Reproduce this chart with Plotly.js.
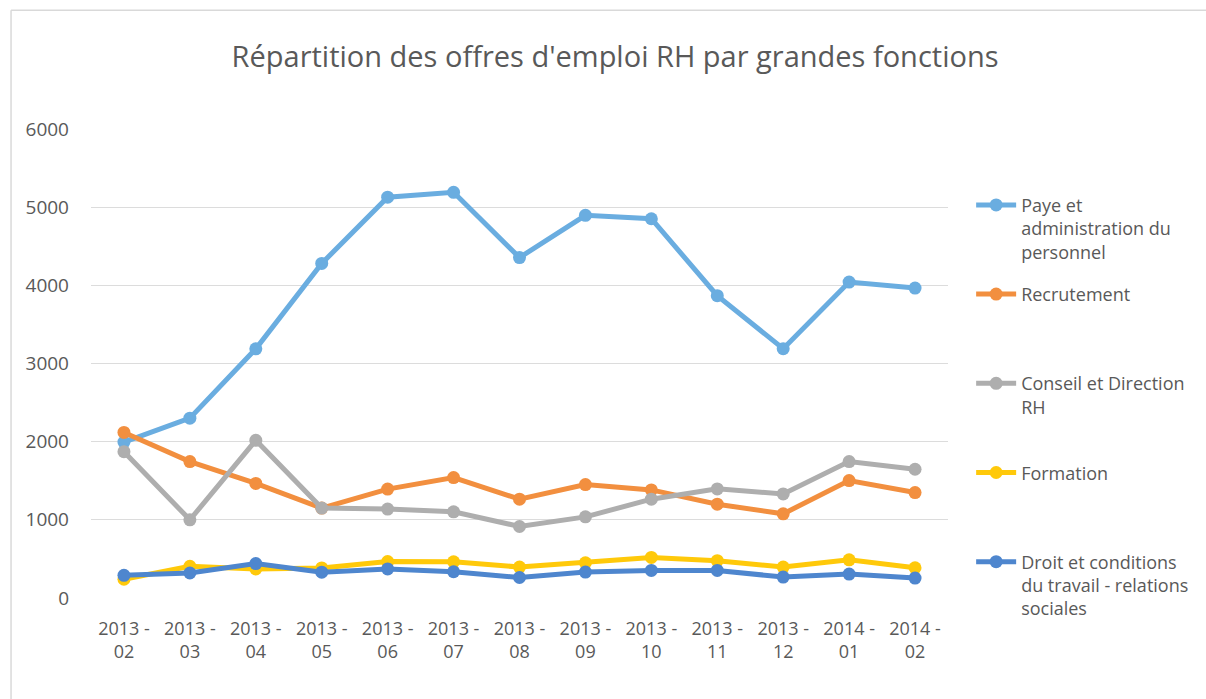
<!DOCTYPE html>
<html>
<head>
<meta charset="utf-8">
<script src="https://cdn.plot.ly/plotly-3.0.1.min.js"></script>
<style>html,body{margin:0;padding:0;background:#fff;}#chart{width:1206px;height:699px;}</style>
</head>
<body>
<div id="chart"></div>
<script>
const months = ["2013 -<br>02","2013 -<br>03","2013 -<br>04","2013 -<br>05","2013 -<br>06","2013 -<br>07","2013 -<br>08","2013 -<br>09","2013 -<br>10","2013 -<br>11","2013 -<br>12","2014 -<br>01","2014 -<br>02"];
const seriesNames = [
  "Paye et<br>administration du<br>personnel",
  "Recrutement<br> <br> ",
  "Conseil et Direction<br>RH<br> ",
  "Formation<br> <br> ",
  "Droit et conditions<br>du travail - relations<br>sociales"
];
const paye       = [1995, 2300, 3188, 4280, 5128, 5190, 4355, 4895, 4852, 3868, 3190, 4042, 3965];
const recrutement= [2118, 1745, 1466, 1150, 1393, 1540, 1264, 1451, 1383, 1200, 1077, 1502, 1349];
const conseil    = [1872, 1000, 2017, 1150, 1137, 1102,  915, 1038, 1264, 1396, 1332, 1745, 1647];
const formation  = [ 240,  406,  372,  385,  466,  464,  396,  451,  519,  477,  396,  489,  387];
const droit      = [ 290,  320,  440,  330,  372,  336,  262,  332,  353,  353,  268,  306,  255];
const colors = ["#6AADE0", "#F28F3F", "#AEAEAE", "#FFC90A", "#4E86CE"];
const values = [paye, recrutement, conseil, formation, droit];

const traces = values.map((v, i) => ({
  type: "scatter",
  mode: "lines+markers",
  x: months,
  y: v,
  name: seriesNames[i],
  line: {color: colors[i], width: 5},
  marker: {color: colors[i], size: 13},
  legendgroup: "g" + i
}));

const layout = {
  width: 1206, height: 699,
  margin: {l: 91, r: 258, t: 129, b: 101},
  paper_bgcolor: "#fff",
  plot_bgcolor: "#fff",
  font: {family: "Open Sans, sans-serif", color: "#595959", size: 18},
  title: {text: "Répartition des offres d'emploi RH par grandes fonctions",
          font: {size: 29, color: "#595959", family: "Open Sans, sans-serif"},
          x: 0.51, xanchor: "center", y: 0.918, yanchor: "middle"},
  xaxis: {type: "category", showgrid: false, zeroline: false, showline: false,
          ticks: "", ticklabelstandoff: 18, tickfont: {size: 18, color: "#595959"},
          range: [-0.5, 12.5], fixedrange: true},
  yaxis: {range: [0, 6000], tickvals: [0,1000,2000,3000,4000,5000,6000], showgrid: true,
          gridcolor: "#DCDCDC", gridwidth: 1.3, zeroline: false, showline: false, ticks: "",
          ticklabelstandoff: 21, tickfont: {size: 19, color: "#595959"}, fixedrange: true},
  legend: {x: 1.027, xanchor: "left", y: 0.877, yanchor: "top",
           valign: "top", font: {size: 18, color: "#595959"}, tracegroupgap: 16,
           itemwidth: 40, bgcolor: "rgba(0,0,0,0)"},
  showlegend: true,
  shapes: [
    {type: "line", xref: "paper", yref: "paper", x0: -0.0933, x1: 1.31, y0: 1.253, y1: 1.253,
     line: {color: "#D9D9D9", width: 1.5}},
    {type: "line", xref: "paper", yref: "paper", x0: -0.0933, x1: -0.0933, y0: 1.253, y1: -0.22,
     line: {color: "#D9D9D9", width: 1.5}}
  ]
};

Plotly.newPlot("chart", traces, layout, {displayModeBar: false, staticPlot: true});
</script>
</body>
</html>
